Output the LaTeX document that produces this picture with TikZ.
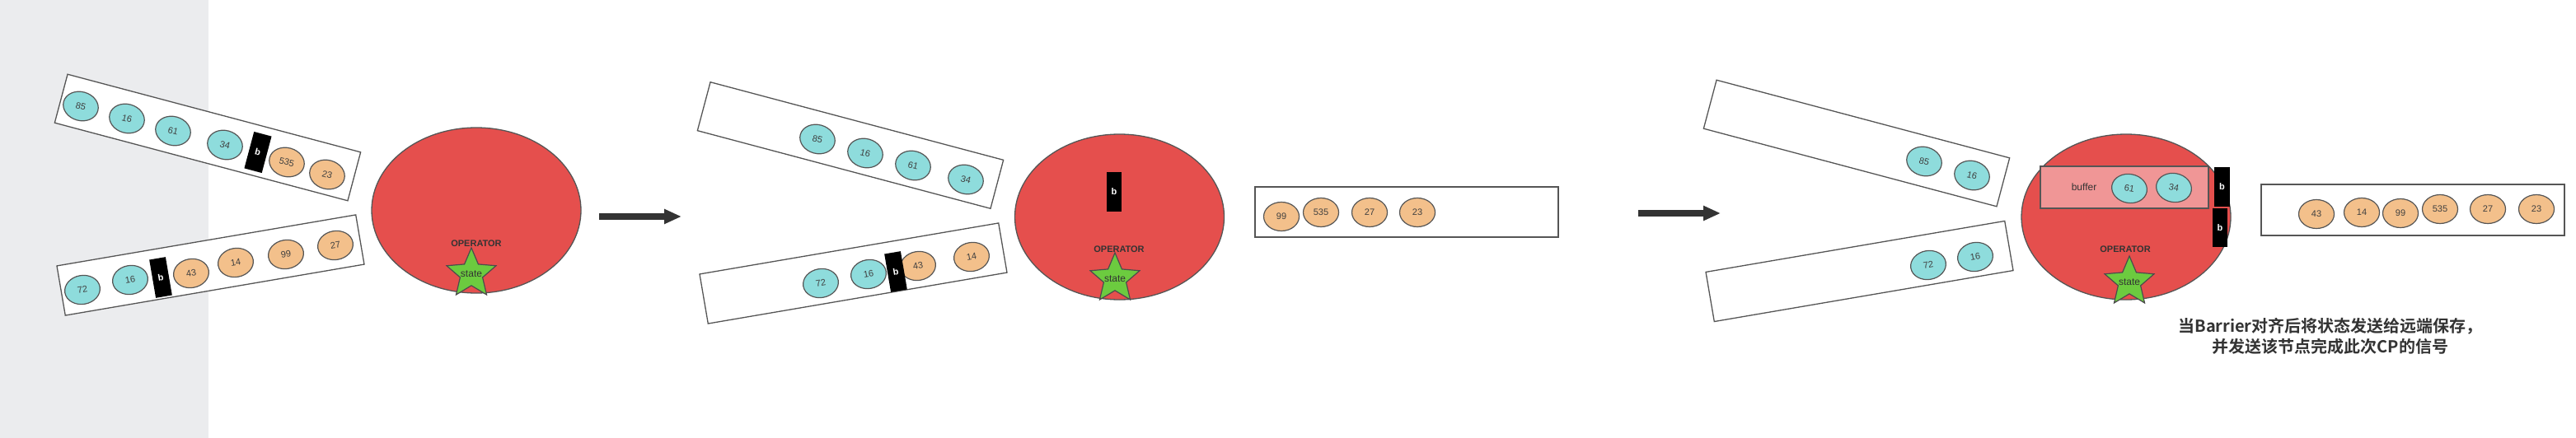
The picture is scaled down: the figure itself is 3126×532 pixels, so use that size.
\documentclass[tikz,border=0pt]{standalone}
\usepackage{fontspec}
\setmainfont{Liberation Sans}
\newfontfamily\cjkfont{Noto Sans CJK SC}[BoldFont={Noto Sans CJK SC Bold}]
\usetikzlibrary{shapes.geometric,arrows.meta}
\definecolor{opred}{HTML}{E54F4D}
\definecolor{ballcyan}{HTML}{8EDCDC}
\definecolor{ballorange}{HTML}{F3C08B}
\definecolor{stargreen}{HTML}{6CCB3F}
\definecolor{bufpink}{HTML}{F09696}
\definecolor{lgray}{HTML}{EBECEE}
\definecolor{edgegray}{HTML}{555555}
\definecolor{txtdark}{HTML}{333333}
\tikzset{
  belt/.style={draw=edgegray, line width=1.3pt, fill=white, minimum width=368pt, minimum height=61pt, inner sep=0pt},
  ball/.style={ellipse, draw=edgegray, line width=1.2pt, minimum width=43pt, minimum height=35pt, inner sep=0pt, font=\fontsize{11}{11}\selectfont, text=black!75},
  cball/.style={ball, fill=ballcyan},
  oball/.style={ball, fill=ballorange},
  barrier/.style={fill=black, minimum width=20pt, minimum height=47pt, inner sep=0pt, text=white, font=\bfseries\fontsize{11}{11}\selectfont},
  operator/.style={ellipse, draw=edgegray, line width=1.3pt, fill=opred, minimum width=254pt, minimum height=201pt},
  oplabel/.style={font=\bfseries\fontsize{11}{11}\selectfont, text=txtdark, inner sep=0pt},
  statestar/.style={star, star points=5, star point ratio=2.2, draw=black!70, line width=1.2pt, fill=stargreen, minimum size=63pt, inner sep=0pt},
  statelabel/.style={font=\fontsize{12}{12}\selectfont, text=txtdark, inner sep=0pt},
  flow/.style={line width=8pt, draw=txtdark, -{Triangle[length=21pt,width=17pt]}},
  outbox/.style={draw=edgegray, line width=1.3pt, fill=white, minimum width=368pt, minimum height=61pt, inner sep=0pt},
}
\begin{document}
\begin{tikzpicture}[x=1pt,y=-1pt]
\useasboundingbox (0,0) rectangle (3126,532);
\fill[lgray] (0,0) rectangle (253,532);

% ---------- stage 1 ----------
\node[belt, rotate=-14.9] (b1u) at (252,167) {};
\node[belt, rotate=9.7] (b1l) at (255.5,322) {};
\node[cball, rotate=-14.9] (u1a) at (98,129) {85};
\node[cball, rotate=-14.9] (u1b) at (154,144) {16};
\node[cball, rotate=-14.9] (u1c) at (210,159) {61};
\node[cball, rotate=-14.9] (u1d) at (273,176) {34};
\node[barrier, rotate=-14.9, minimum width=22pt, minimum height=46pt] (u1bar) at (313,185) {b};
\node[oball, rotate=-14.9] (u1e) at (348,197) {535};
\node[oball, rotate=-14.9] (u1f) at (397,212) {23};
\node[cball, rotate=9.7] (l1a) at (100,352) {72};
\node[cball, rotate=9.7] (l1b) at (158,340) {16};
\node[barrier, rotate=9.7] (l1bar) at (195,337) {b};
\node[oball, rotate=9.7] (l1c) at (232,332) {43};
\node[oball, rotate=9.7] (l1d) at (286,319) {14};
\node[oball, rotate=9.7] (l1e) at (347,309) {99};
\node[oball, rotate=9.7] (l1f) at (407,298) {27};
\node[operator] (op1) at (578,255.5) {};
\node[oplabel] (op1t) at (578,296) {OPERATOR};
\node[statestar] (st1) at (572,332.5) {};
\node[statelabel] (st1t) at (st1.center) {state};

\coordinate (a1s) at (727,263);
\coordinate (a1e) at (827,263);
\draw[flow] (a1s) -- (a1e);

% ---------- stage 2 ----------
\node[belt, rotate=-14.9] (b2u) at (1032,176.5) {};
\node[belt, rotate=9.7] (b2l) at (1035.5,332) {};
\node[cball, rotate=-14.9] (u2a) at (992,169) {85};
\node[cball, rotate=-14.9] (u2b) at (1050,186) {16};
\node[cball, rotate=-14.9] (u2c) at (1108,201) {61};
\node[cball, rotate=-14.9] (u2d) at (1172,218) {34};
\node[cball, rotate=9.7] (l2a) at (996,344) {72};
\node[cball, rotate=9.7] (l2b) at (1054,333) {16};
\node[oball, rotate=9.7] (l2c) at (1114,323) {43};
\node[barrier, rotate=9.7] (l2bar) at (1087,330) {b};
\node[oball, rotate=9.7] (l2d) at (1179,312) {14};
\node[operator] (op2) at (1358.5,263.5) {};
\node[barrier, minimum width=18pt, minimum height=48pt] (op2bar) at (1352,233) {b};
\node[oplabel] (op2t) at (1358,303) {OPERATOR};
\node[statestar] (st2) at (1353,338.5) {};
\node[statelabel] (st2t) at (st2.center) {state};
\node[outbox] (out2) at (1707,257.5) {};
\node[oball] (o2a) at (1555,263) {99};
\node[oball] (o2b) at (1603,258) {535};
\node[oball] (o2c) at (1662,258) {27};
\node[oball] (o2d) at (1720,258) {23};

\coordinate (a2s) at (1988,259);
\coordinate (a2e) at (2088,259);
\draw[flow] (a2s) -- (a2e);

% ---------- stage 3 ----------
\node[belt, rotate=-14.9] (b3u) at (2253,174) {};
\node[belt, rotate=9.7] (b3l) at (2256.5,329.5) {};
\node[cball, rotate=-14.9] (u3a) at (2335,196) {85};
\node[cball, rotate=-14.9] (u3b) at (2393,213) {16};
\node[cball, rotate=9.7] (l3a) at (2340,322) {72};
\node[cball, rotate=9.7] (l3b) at (2397,312) {16};
\node[operator] (op3) at (2580,263.5) {};
\node[draw=edgegray, line width=1.3pt, fill=bufpink, minimum width=204pt, minimum height=51pt, inner sep=0pt] (buf) at (2578,227.5) {};
\node[statelabel] (buft) at (2529,227) {buffer};
\node[cball, rotate=-10] (bfa) at (2584,229) {61};
\node[cball, rotate=-10] (bfb) at (2638,228) {34};
\node[barrier, minimum width=19pt, minimum height=48pt] (op3bar1) at (2696.5,227) {b};
\node[barrier, minimum width=18pt, minimum height=47pt] (op3bar2) at (2694,276.5) {b};
\node[oplabel] (op3t) at (2579,303) {OPERATOR};
\node[statestar] (st3) at (2584,342.5) {};
\node[statelabel] (st3t) at (st3.center) {state};
\node[outbox, minimum height=62pt] (out3) at (2928,255) {};
\node[oball] (o3a) at (2811,260) {43};
\node[oball] (o3b) at (2866,258) {14};
\node[oball] (o3c) at (2913,259) {99};
\node[oball] (o3d) at (2961,254) {535};
\node[oball] (o3e) at (3019,254) {27};
\node[oball] (o3f) at (3078,254) {23};

\node[align=center, text=txtdark, font=\cjkfont\bfseries\fontsize{20}{25}\selectfont, inner sep=0pt] (note) at (2828,408)
  {当Barrier对齐后将状态发送给远端保存，\\并发送该节点完成此次CP的信号};
\end{tikzpicture}
\end{document}
